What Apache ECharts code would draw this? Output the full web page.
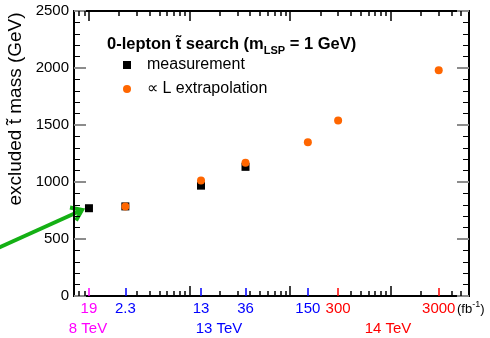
<!DOCTYPE html>
<html lang="en">
<head>
<meta charset="UTF-8">
<title>excluded stop mass vs luminosity</title>
<style>html,body{margin:0;padding:0;background:#fff}</style>
</head>
<body>
<div id="main" style="width:490px;height:338px"></div>
<script src="https://cdn.jsdelivr.net/npm/echarts@6/dist/echarts.min.js"></script>
<script>
// x slots on the log axis (the 8 TeV 19 fb-1 point sits in the 1 fb-1 slot)
var lumiPos = [1, 2.3, 13, 36, 150, 300, 3000];
var lumiText = ['19', '2.3', '13', '36', '150', '300', '3000'];
var magentaTicks = [1];
var blueTicks = [2.3, 13, 36, 150];
var redTicks = [300, 3000];
var energyText = ['8 TeV', '13 TeV', '14 TeV'];

// excluded stop mass (GeV)
var measured = [770, 786, 968, 1133];              // lumiPos[0..3]
var extrapolated = [786, 1014, 1168, 1349, 1539, 1980]; // lumiPos[1..6]

var bottomMinor = [0.8, 0.9, 3, 4, 5, 6, 7, 8, 9, 20, 30, 40, 50, 60, 70, 80, 90,
    400, 500, 600, 700, 800, 900, 2000, 4000, 5000];
var topMinor = [0.8, 0.9, 2, 3, 4, 5, 6, 7, 8, 9, 20, 30, 40, 50, 60, 70, 80, 90,
    200, 300, 400, 500, 600, 700, 800, 900, 2000, 3000, 4000, 5000];
var decades = [1, 10, 100, 1000];

var FONT = 'Liberation Sans';
var xMin = 0.71, xMax = 6000;

function lumiLabel(v) {
    for (var i = 0; i < lumiPos.length; i++) {
        if (Math.abs(Math.log(v / lumiPos[i])) < 0.01) return lumiText[i];
    }
    return '';
}

// one log axis per tick style, all stacked on the same grid
function xAx(pos, ticks, len, color, labels) {
    return {
        type: 'log', logBase: 10, min: xMin, max: xMax, position: pos,
        axisLine: {show: true, lineStyle: {color: '#000', width: 2}},
        splitLine: {show: false},
        axisTick: {show: true, inside: true, length: len, customValues: ticks,
            lineStyle: {color: color, width: 1.5}},
        axisLabel: labels ? {show: true, customValues: ticks, color: color, fontSize: 15,
            fontFamily: FONT, margin: 5, formatter: lumiLabel} : {show: false}
    };
}

function yAx(pos, labels) {
    return {
        type: 'value', min: 0, max: 2500, interval: 500, position: pos,
        axisLine: {show: true, lineStyle: {color: '#000', width: 2}},
        splitLine: {show: false},
        axisTick: {show: true, inside: true, length: 12, lineStyle: {color: '#8c8c8c', width: 2}},
        minorTick: {show: true, splitNumber: 5, length: 6, lineStyle: {color: '#000', width: 1}},
        axisLabel: {show: labels, color: '#000', fontSize: 15, fontFamily: FONT, margin: 5,
            formatter: function (v) { return String(v); }}
    };
}

var myChart = echarts.init(document.getElementById('main'));

var option = {
    animation: false,
    backgroundColor: '#fff',
    grid: {left: 74, right: 21, top: 11, bottom: 42},
    title: {
        text: '0-lepton t\u0303 search (m{sub|LSP} = 1 GeV)',
        left: 102, top: 28,
        textStyle: {
            fontFamily: FONT, fontSize: 16.5, fontWeight: 'bold', color: '#000',
            rich: {sub: {fontFamily: FONT, fontSize: 11, fontWeight: 'bold', color: '#000', padding: [12, 0, 0, 0]}}
        }
    },
    legend: {
        orient: 'vertical', left: 118, top: 52,
        itemWidth: 8, itemHeight: 8, itemGap: 8,
        textStyle: {fontFamily: FONT, fontSize: 16, color: '#000', lineHeight: 16, padding: [0, 0, 0, 11]},
        data: [
            {name: 'measurement', icon: 'rect'},
            {name: '\u221d L extrapolation', icon: 'circle'}
        ]
    },
    xAxis: [
        xAx('bottom', bottomMinor, 5, '#000', false),
        xAx('bottom', [10, 100, 1000], 10, '#000', false),
        xAx('top', topMinor, 5, '#000', false),
        xAx('top', decades, 10, '#000', false),
        xAx('bottom', magentaTicks, 8, '#ff00ff', true),
        xAx('bottom', blueTicks, 8, '#0000ff', true),
        xAx('bottom', redTicks, 8, '#ff0000', true)
    ],
    yAxis: [yAx('left', true), yAx('right', false)],
    series: [
        {
            name: 'measurement', type: 'scatter', symbol: 'rect', symbolSize: 8,
            itemStyle: {color: '#000', opacity: 1},
            data: measured.map(function (v, i) { return [lumiPos[i], v]; })
        },
        {
            name: '\u221d L extrapolation', type: 'scatter', symbol: 'circle', symbolSize: 8,
            itemStyle: {color: '#ff6600', opacity: 1},
            data: extrapolated.map(function (v, i) { return [lumiPos[i + 1], v]; })
        }
    ],
    graphic: [
        {type: 'text', x: 16, y: 109, rotation: Math.PI / 2,
            style: {text: 'excluded t\u0303 mass (GeV)', fontFamily: FONT, fontSize: 19,
                fill: '#000', align: 'center', verticalAlign: 'middle'}},
        {type: 'text', x: 88, y: 329, style: {text: energyText[0], fontFamily: FONT, fontSize: 15,
            fill: '#ff00ff', align: 'center', verticalAlign: 'middle'}},
        {type: 'text', x: 219, y: 329, style: {text: energyText[1], fontFamily: FONT, fontSize: 15,
            fill: '#0000ff', align: 'center', verticalAlign: 'middle'}},
        {type: 'text', x: 388, y: 329, style: {text: energyText[2], fontFamily: FONT, fontSize: 15,
            fill: '#ff0000', align: 'center', verticalAlign: 'middle'}},
        {type: 'text', x: 457, y: 309, style: {text: '(fb{sup|-1})', fontFamily: FONT, fontSize: 13,
            fill: '#000', align: 'left', verticalAlign: 'middle',
            rich: {sup: {fontFamily: FONT, fontSize: 9, fill: '#000', padding: [0, 0, 8, 0]}}}},
        // green arrow pointing at the 8 TeV point
        {type: 'polyline', shape: {points: [[-2, 248], [80, 211]]},
            style: {stroke: '#14b014', lineWidth: 4, fill: null}},
        {type: 'polyline', shape: {points: [[70, 207.5], [82, 210], [76, 220.5]]},
            style: {stroke: '#14b014', lineWidth: 4, fill: null, lineJoin: 'miter'}}
    ]
};

myChart.setOption(option);
</script>
</body>
</html>
